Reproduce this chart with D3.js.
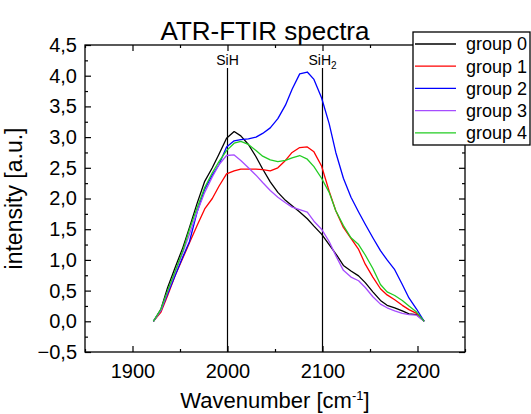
<!DOCTYPE html>
<html>
<head>
<meta charset="utf-8">
<script src="https://cdn.jsdelivr.net/npm/d3@7"></script>
<style>
  body { margin: 0; background: #fff; }
  text { font-family: "Liberation Sans", Arial, sans-serif; fill: #000; }
</style>
</head>
<body>
<div id="chart"></div>
<script>
// wavenumber grid shared by all spectra (cm-1)
var wavenumbers = [1922, 1930, 1937, 1945, 1953, 1960, 1968, 1976, 1984, 1991,
  1999, 2007, 2014, 2022, 2030, 2037, 2045, 2053, 2061, 2068,
  2076, 2084, 2091, 2099, 2107, 2114, 2122, 2130, 2138, 2145,
  2153, 2161, 2168, 2176, 2184, 2191, 2199, 2207]

var group0 = [0, 0.2, 0.55, 0.88, 1.2, 1.53, 1.92, 2.28, 2.5, 2.72,
  2.98, 3.09, 3.02, 2.88, 2.68, 2.48, 2.27, 2.1, 1.97, 1.88,
  1.78, 1.67, 1.55, 1.42, 1.25, 1.1, 0.91, 0.82, 0.74, 0.63,
  0.48, 0.34, 0.26, 0.22, 0.17, 0.12, 0.11, 0]
var group1 = [0, 0.15, 0.42, 0.75, 1.03, 1.28, 1.56, 1.83, 2.0, 2.2,
  2.4, 2.45, 2.48, 2.48, 2.48, 2.47, 2.45, 2.5, 2.62, 2.75,
  2.83, 2.84, 2.76, 2.53, 2.12, 1.8, 1.53, 1.35, 1.17, 0.93,
  0.72, 0.53, 0.43, 0.35, 0.26, 0.19, 0.13, 0]
var group2 = [0, 0.18, 0.45, 0.75, 1.05, 1.3, 1.78, 2.15, 2.38, 2.55,
  2.84, 2.94, 2.96, 2.97, 3.0, 3.06, 3.15, 3.3, 3.52, 3.78,
  4.03, 4.06, 3.94, 3.64, 3.22, 2.75, 2.33, 2.02, 1.78, 1.58,
  1.36, 1.15, 1.0, 0.84, 0.6, 0.38, 0.2, 0]
var group3 = [0, 0.18, 0.48, 0.8, 1.12, 1.42, 1.78, 2.1, 2.35, 2.55,
  2.7, 2.71, 2.62, 2.5, 2.38, 2.26, 2.13, 2.02, 1.93, 1.86,
  1.82, 1.78, 1.63, 1.5, 1.3, 1.07, 0.83, 0.72, 0.66, 0.55,
  0.4, 0.28, 0.22, 0.17, 0.13, 0.11, 0.1, 0]
var group4 = [0, 0.2, 0.5, 0.82, 1.15, 1.5, 1.85, 2.18, 2.42, 2.6,
  2.78, 2.9, 2.93, 2.88, 2.78, 2.69, 2.63, 2.6, 2.62, 2.66,
  2.7, 2.64, 2.52, 2.33, 2.1, 1.8, 1.56, 1.36, 1.25, 1.08,
  0.86, 0.6, 0.48, 0.42, 0.34, 0.25, 0.15, 0]

var seriesNames = ["group 0", "group 1", "group 2", "group 3", "group 4"]
var seriesColors = ["#000000", "#ff0000", "#0000ff", "#a64dff", "#22cc22"]
var seriesValues = [group0, group1, group2, group3, group4]

var xTicks = [1900, 2000, 2100, 2200]
var yTicks = [-0.5, 0, 0.5, 1, 1.5, 2, 2.5, 3, 3.5, 4, 4.5]
var markers = [{ x: 2000, label: "SiH", sub: "" }, { x: 2100, label: "SiH", sub: "2" }]

var width = 531, height = 414
var margin = { top: 45, right: 66, bottom: 62, left: 85 }
var plotW = width - margin.left - margin.right
var plotH = height - margin.top - margin.bottom

var svg = d3.select("#chart").append("svg")
  .attr("width", width)
  .attr("height", height)

var x = d3.scaleLinear().domain([1850, 2250]).range([margin.left, margin.left + plotW])
var y = d3.scaleLinear().domain([-0.5, 4.5]).range([margin.top + plotH, margin.top])

var fmt = function(d) { return d3.format(".1f")(d).replace(".", ",") }

// minor tick values
var xMinor = d3.range(1850, 2251, 50).filter(function(d) { return xTicks.indexOf(d) < 0 })
var yMinor = d3.range(-0.25, 4.5, 0.5)

// bottom axis with labels, ticks pointing inward
svg.append("g")
  .attr("transform", "translate(0," + (margin.top + plotH) + ")")
  .call(d3.axisBottom(x).tickValues(xTicks).tickSize(-6).tickPadding(12).tickFormat(d3.format("d")))
  .call(function(g) {
    g.select(".domain").remove()
    g.selectAll("text").attr("font-size", 20).attr("dy", "0.71em")
  })
svg.append("g")
  .attr("transform", "translate(0," + (margin.top + plotH) + ")")
  .call(d3.axisBottom(x).tickValues(xMinor).tickSize(-3).tickFormat(""))
  .call(function(g) { g.select(".domain").remove() })

// top axis, ticks only
svg.append("g")
  .attr("transform", "translate(0," + margin.top + ")")
  .call(d3.axisTop(x).tickValues(xTicks).tickSize(-6).tickFormat(""))
  .call(function(g) { g.select(".domain").remove() })
svg.append("g")
  .attr("transform", "translate(0," + margin.top + ")")
  .call(d3.axisTop(x).tickValues(xMinor).tickSize(-3).tickFormat(""))
  .call(function(g) { g.select(".domain").remove() })

// left axis with labels
svg.append("g")
  .attr("transform", "translate(" + margin.left + ",0)")
  .call(d3.axisLeft(y).tickValues(yTicks).tickSize(-6).tickPadding(8).tickFormat(fmt))
  .call(function(g) {
    g.select(".domain").remove()
    g.selectAll("text").attr("font-size", 20)
  })
svg.append("g")
  .attr("transform", "translate(" + margin.left + ",0)")
  .call(d3.axisLeft(y).tickValues(yMinor).tickSize(-3).tickFormat(""))
  .call(function(g) { g.select(".domain").remove() })

// right axis, ticks only
svg.append("g")
  .attr("transform", "translate(" + (margin.left + plotW) + ",0)")
  .call(d3.axisRight(y).tickValues(yTicks).tickSize(-6).tickFormat(""))
  .call(function(g) { g.select(".domain").remove() })
svg.append("g")
  .attr("transform", "translate(" + (margin.left + plotW) + ",0)")
  .call(d3.axisRight(y).tickValues(yMinor).tickSize(-3).tickFormat(""))
  .call(function(g) { g.select(".domain").remove() })

svg.selectAll(".tick line").attr("stroke", "#000").attr("stroke-width", 1.2)

// frame
svg.append("rect")
  .attr("x", margin.left)
  .attr("y", margin.top)
  .attr("width", plotW)
  .attr("height", plotH)
  .attr("fill", "none")
  .attr("stroke", "#000")
  .attr("stroke-width", 1.3)

// marker lines SiH / SiH2
var mk = svg.append("g").selectAll("g").data(markers).enter().append("g")
mk.append("line")
  .attr("x1", function(d) { return x(d.x) })
  .attr("x2", function(d) { return x(d.x) })
  .attr("y1", 68)
  .attr("y2", margin.top + plotH)
  .attr("stroke", "#000")
  .attr("stroke-width", 1.2)
var mkText = mk.append("text")
  .attr("x", function(d) { return x(d.x) })
  .attr("y", 65)
  .attr("text-anchor", "middle")
  .attr("font-size", 14)
mkText.append("tspan").text(function(d) { return d.label })
mkText.append("tspan")
  .attr("font-size", 10)
  .attr("dy", 4)
  .text(function(d) { return d.sub })

// spectra
var line = d3.line()
  .x(function(d, i) { return x(wavenumbers[i]) })
  .y(function(d) { return y(d) })

svg.append("g").selectAll("path")
  .data(seriesValues)
  .enter()
  .append("path")
  .attr("d", line)
  .attr("fill", "none")
  .attr("stroke", function(d, i) { return seriesColors[i] })
  .attr("stroke-width", 1.3)
  .attr("stroke-linejoin", "round")

// legend
var legend = svg.append("g")
legend.append("rect")
  .attr("x", 413)
  .attr("y", 32)
  .attr("width", 117)
  .attr("height", 113)
  .attr("fill", "#fff")
  .attr("stroke", "#000")
  .attr("stroke-width", 1.3)
var item = legend.selectAll("g.item")
  .data(seriesNames)
  .enter()
  .append("g")
  .attr("class", "item")
  .attr("transform", function(d, i) { return "translate(0," + (44 + i * 22.2) + ")" })
item.append("line")
  .attr("x1", 415)
  .attr("x2", 456)
  .attr("stroke", function(d, i) { return seriesColors[i] })
  .attr("stroke-width", 1.3)
item.append("text")
  .attr("x", 466)
  .attr("dy", "0.35em")
  .attr("font-size", 18)
  .text(function(d) { return d })

// titles
svg.append("text")
  .attr("x", 265)
  .attr("y", 40)
  .attr("text-anchor", "middle")
  .attr("font-size", 26)
  .text("ATR-FTIR spectra")

var xTitle = svg.append("text")
  .attr("x", 275)
  .attr("y", 408)
  .attr("text-anchor", "middle")
  .attr("font-size", 22)
xTitle.append("tspan").text("Wavenumber [cm")
xTitle.append("tspan").attr("font-size", 13).attr("dy", -8).text("-1")
xTitle.append("tspan").attr("dy", 8).text("]")

svg.append("text")
  .attr("transform", "translate(22," + (margin.top + plotH / 2) + ") rotate(-90)")
  .attr("text-anchor", "middle")
  .attr("font-size", 23)
  .text("intensity [a.u.]")
</script>
</body>
</html>
